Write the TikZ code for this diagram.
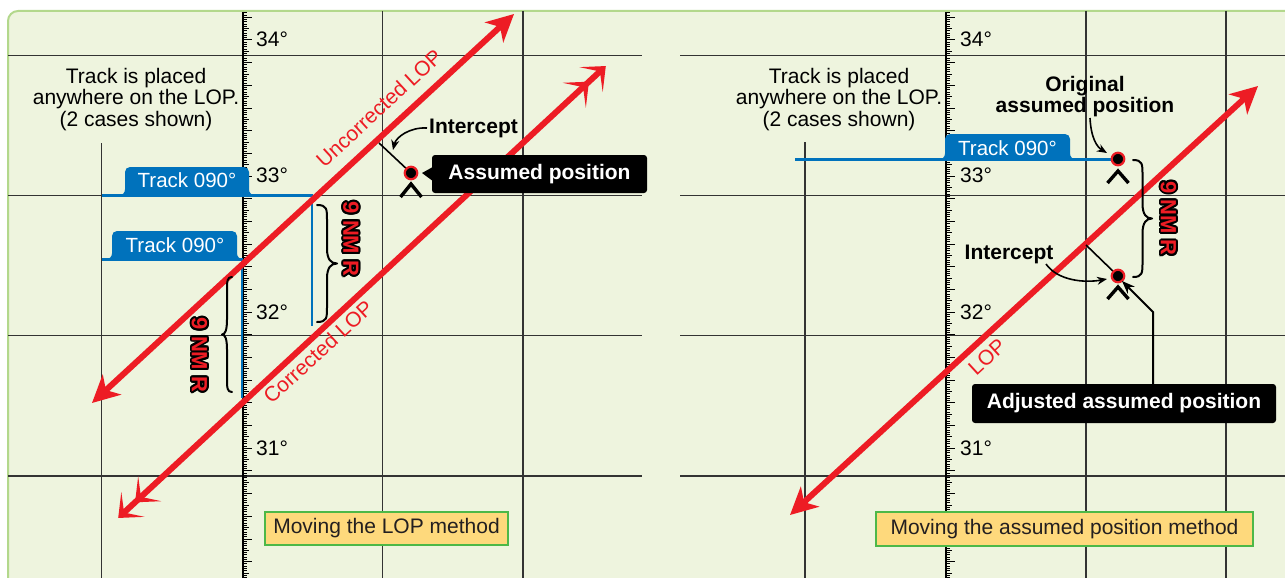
\documentclass[tikz,border=0pt]{standalone}
\usepackage{fontspec}
\setmainfont{Liberation Sans}
\usetikzlibrary{arrows.meta,calc}
\definecolor{panelbg}{HTML}{EEF4DE}
\definecolor{panelborder}{HTML}{B3D88C}
\definecolor{lopred}{HTML}{ED1C24}
\definecolor{trackblue}{HTML}{0072BC}
\definecolor{tagfill}{HTML}{FED97C}
\definecolor{taggreen}{HTML}{4DB848}
\definecolor{gridgrey}{HTML}{333333}
\definecolor{textdark}{HTML}{231F20}

\newcommand\olcopy[3]{\rlap{\hspace*{#1}\raisebox{#2}{\color{black}#3}}}
\newcommand\nmrOutline[1]{\leavevmode
  \olcopy{1.9pt}{0pt}{#1}\olcopy{-1.9pt}{0pt}{#1}%
  \olcopy{0pt}{1.9pt}{#1}\olcopy{0pt}{-1.9pt}{#1}%
  \olcopy{1.35pt}{1.35pt}{#1}\olcopy{-1.35pt}{1.35pt}{#1}%
  \olcopy{1.35pt}{-1.35pt}{#1}\olcopy{-1.35pt}{-1.35pt}{#1}%
  \olcopy{1.75pt}{0.75pt}{#1}\olcopy{-1.75pt}{0.75pt}{#1}%
  \olcopy{1.75pt}{-0.75pt}{#1}\olcopy{-1.75pt}{-0.75pt}{#1}%
  \olcopy{0.75pt}{1.75pt}{#1}\olcopy{-0.75pt}{1.75pt}{#1}%
  \olcopy{0.75pt}{-1.75pt}{#1}\olcopy{-0.75pt}{-1.75pt}{#1}%
  {\color{lopred}#1}}

% #1 left, #2 right, #3 top, #4 base line
\newcommand\tracktab[4]{%
 \fill[trackblue] ({#1-6},{#4+1.2}) -- ({#1-6},#4) .. controls ({#1-2.7},#4) and (#1,{#4-2.7}) .. (#1,{#4-6})
   -- (#1,{#3+5}) .. controls (#1,{#3+2.2}) and ({#1+2.2},#3) .. ({#1+5},#3)
   -- ({#2-5},#3) .. controls ({#2-2.2},#3) and (#2,{#3+2.2}) .. (#2,{#3+5})
   -- (#2,{#4-6}) .. controls (#2,{#4-2.7}) and ({#2+2.7},#4) .. ({#2+6},#4)
   -- ({#2+6},{#4+1.2}) -- cycle;}

% curly brace: #1 end x, #2 tip x, #3 top y, #4 bottom y
\newcommand\curlybrace[4]{%
 \draw[bracestroke] (#1,#3) .. controls ({0.5*#1+0.5*#2},#3) and ({0.5*#1+0.5*#2},{#3+4}) .. ({0.5*#1+0.5*#2},{#3+15})
   -- ({0.5*#1+0.5*#2},{0.5*#3+0.5*#4-15}) .. controls ({0.5*#1+0.5*#2},{0.5*#3+0.5*#4-4}) and ({0.3*#1+0.7*#2},{0.5*#3+0.5*#4}) .. (#2,{0.5*#3+0.5*#4})
   .. controls ({0.3*#1+0.7*#2},{0.5*#3+0.5*#4}) and ({0.5*#1+0.5*#2},{0.5*#3+0.5*#4+4}) .. ({0.5*#1+0.5*#2},{0.5*#3+0.5*#4+15})
   -- ({0.5*#1+0.5*#2},{#4-15}) .. controls ({0.5*#1+0.5*#2},{#4-4}) and ({0.5*#1+0.5*#2},#4) .. (#1,#4);}

\begin{document}
\begin{tikzpicture}[x=1pt,y=-1pt,
  gridline/.style={draw=gridgrey,line width=1.1pt},
  gridthick/.style={draw=gridgrey,line width=2pt},
  axisline/.style={draw=black,line width=2.4pt},
  tickmark/.style={draw=black,line width=1pt},
  trackline/.style={draw=trackblue,line width=2.4pt},
  lopbase/.style={draw=lopred,line width=6pt},
  lopsingle/.style={lopbase,{Stealth[length=27pt,width=27pt,inset=8pt]}-{Stealth[length=27pt,width=27pt,inset=8pt]}},
  lopdouble/.style={lopbase,{Stealth[length=20pt,width=34pt,inset=12pt,sep=3pt]Stealth[length=20pt,width=34pt,inset=12pt,sep=3pt]}-{Stealth[length=20pt,width=34pt,inset=12pt,sep=3pt]Stealth[length=20pt,width=34pt,inset=12pt,sep=3pt]}},
  lbl/.style={font=\fontsize{21}{21.7}\selectfont,text=black,inner sep=0pt},
  boldlbl/.style={font=\bfseries\fontsize{21}{21}\selectfont,text=black,inner sep=0pt},
  redlbl/.style={font=\fontsize{21}{24}\selectfont,text=lopred,inner sep=0pt},
  tabtext/.style={font=\fontsize{20.5}{24}\selectfont,text=white,inner sep=0pt},
  blackbox/.style={fill=black,text=white,font=\bfseries\fontsize{21}{24}\selectfont,rounded corners=3pt,inner sep=0pt},
  methodbox/.style={fill=tagfill,draw=taggreen,line width=1.5pt,font=\fontsize{21}{24}\selectfont,text=textdark,inner sep=0pt},
  nmr/.style={font=\bfseries\fontsize{22}{24}\selectfont,inner sep=0pt,rotate=-90},
  bracestroke/.style={draw=black,line width=2pt,line cap=round,line join=round},
  apdot/.style={circle,fill=black,draw=lopred,line width=2.2pt,minimum size=12.5pt,inner sep=0pt},
  chevron/.style={draw=black,line width=3.4pt},
  interline/.style={draw=black,line width=1.6pt},
  callarrow/.style={draw=black,line width=1.6pt,-{Stealth[length=10pt,width=8pt]}},
  bigarrow/.style={draw=black,line width=2pt,-{Stealth[length=13pt,width=10pt]}}
]
\path[use as bounding box] (0,0) rectangle (1285,578);
\fill[panelbg,rounded corners=10pt] (8,600) -- (8,11) -- (1300,11) -- (1300,600) -- cycle;
\draw[panelborder,line width=2pt,rounded corners=10pt] (8,600) -- (8,11) -- (1300,11);

% grid
\foreach \y in {55.3,195.4,335.4} {
  \draw[gridline] (8,\y) -- (642,\y);
  \draw[gridline] (680,\y) -- (1285,\y);
}
\draw[gridthick] (8,475.5) -- (642,475.5);
\draw[gridthick] (680,475.5) -- (1285,475.5);
\draw[gridline] (101.5,143) -- (101.5,578);
\draw[gridline] (382.5,11) -- (382.5,578);
\draw[gridthick] (523,11) -- (523,578);
\draw[gridline] (805,142) -- (805,578);
\draw[gridline] (1086,11) -- (1086,578);
\draw[gridthick] (1226,11) -- (1226,578);

% latitude scales
\foreach \ax in {243,946} {
  \draw[axisline] (\ax,12) -- (\ax,578);
  \foreach \i in {-12,...,237} {
    \pgfmathsetmacro\tl{ifthenelse(mod(\i,10)==0,7.5,ifthenelse(mod(\i,5)==0,5,3))}
    \draw[tickmark] ({\ax+1},{40+\i*2.2683}) -- ++(\tl,0);
  }
}
\node[lbl,anchor=base west] (d34L) at (256,46.5) {34°};
\node[lbl,anchor=base west] (d33L) at (256,182.8) {33°};
\node[lbl,anchor=base west] (d32L) at (256,319) {32°};
\node[lbl,anchor=base west] (d31L) at (256,455.3) {31°};
\node[lbl,anchor=base west] (d34R) at (960,46.5) {34°};
\node[lbl,anchor=base west] (d33R) at (960,182.8) {33°};
\node[lbl,anchor=base west] (d32R) at (960,319) {32°};
\node[lbl,anchor=base west] (d31R) at (960,455.3) {31°};

% notes
\node[lbl,align=center] (noteL) at (136,99.5) {Track is placed\\anywhere on the LOP.\\(2 cases shown)};
\node[lbl,align=center] (noteR) at (839,99.5) {Track is placed\\anywhere on the LOP.\\(2 cases shown)};

% ---------- left panel tracks ----------
\coordinate (tAstart) at (101.5,195.4);
\coordinate (tAcorner) at (312,195.4);
\coordinate (tAend) at (312,326);
\draw[trackline] (tAstart) -- (tAcorner) -- (tAend);
\tracktab{125}{249}{167}{195.4}
\node[tabtext,anchor=base] (trkA) at (187,187.5) {Track 090°};

\coordinate (tBstart) at (102,259.3);
\coordinate (tBcorner) at (242,259.3);
\coordinate (tBend) at (242,398);
\draw[trackline] (tBstart) -- (tBcorner) -- (tBend);
\tracktab{112}{237}{231}{259.3}
\node[tabtext,anchor=base] (trkB) at (175,252.3) {Track 090°};

% ---------- right panel track ----------
\coordinate (tCstart) at (795,159.5);
\coordinate (tCend) at (1112,159.5);
\draw[trackline] (tCstart) -- (tCend);
\tracktab{945}{1070}{134}{159.5}
\node[tabtext,anchor=base] (trkC) at (1007.5,155.7) {Track 090°};

% ---------- LOP lines ----------
\coordinate (uA) at (92,403);
\coordinate (uB) at (514,14);
\draw[lopsingle] (uA) -- (uB);
\coordinate (cA) at (116,520);
\coordinate (cB) at (608,64);
\draw[lopdouble] (cA) -- (cB);
\coordinate (rA) at (790,515);
\coordinate (rB) at (1258,86);
\draw[lopsingle] (rA) -- (rB);

\node[redlbl,rotate=42.6] (uLbl) at (379,108) {Uncorrected LOP};
\node[redlbl,rotate=42.6] (cLbl) at (318,352) {Corrected LOP};
\node[redlbl,rotate=42.6] (rLbl) at (987,357) {LOP};

% ---------- braces and distances ----------
\curlybrace{232}{222}{277}{392}
\curlybrace{317}{337}{205}{322}
\curlybrace{1133}{1152}{160}{277}
\node[nmr] (nmrL1) at (199.5,355) {\nmrOutline{9 NM R}};
\node[nmr] (nmrL2) at (351,239) {\nmrOutline{9 NM R}};
\node[nmr] (nmrR) at (1168.5,218.5) {\nmrOutline{9 NM R}};

% ---------- left assumed position ----------
\coordinate (iLstart) at (379,143);
\draw[interline] (iLstart) -- (411,173);
\node[apdot] (dotA) at (411,173) {};
\draw[chevron] ($(dotA)+(-10.5,24)$) -- ($(dotA)+(0,11)$) -- ($(dotA)+(10.5,24)$);
\node[boldlbl,anchor=base] (intL) at (473.5,133) {Intercept};
\coordinate (intLs) at (427,128);
\coordinate (intLt) at (393,150);
\draw[callarrow] (intLs) .. controls (410,127) and (396,137) .. (intLt);
\node[blackbox,minimum width=215pt,minimum height=38pt] (apBox) at (539.5,174) {Assumed position};
\coordinate (apTip) at (422,173);
\fill[black] ($(apBox.west)+(1,-7)$) -- (apTip) -- ($(apBox.west)+(1,7)$) -- cycle;

% ---------- right assumed positions ----------
\node[apdot] (dotO) at (1118,159) {};
\draw[chevron] ($(dotO)+(-10.5,24)$) -- ($(dotO)+(0,12)$) -- ($(dotO)+(10.5,24)$);
\node[boldlbl,align=center] (origLbl) at (1085,97) {Original\\assumed position};
\coordinate (origS) at (1090,118);
\coordinate (origT) at (1107,153);
\draw[callarrow] (origS) .. controls (1091,138) and (1097,147) .. (origT);

\coordinate (iRstart) at (1086,245);
\draw[interline] (iRstart) -- (1118,276);
\node[apdot] (dotN) at (1118,276) {};
\draw[chevron] ($(dotN)+(-10.5,23)$) -- ($(dotN)+(0,11)$) -- ($(dotN)+(10.5,23)$);
\node[boldlbl,anchor=base] (intR) at (1009,259) {Intercept};
\coordinate (intRs) at (1046,264);
\coordinate (intRt) at (1107,279);
\draw[callarrow] (intRs) .. controls (1058,281) and (1085,283) .. (intRt);

\node[blackbox,minimum width=304pt,minimum height=39pt] (adjBox) at (1124,403.5) {Adjusted assumed position};
\coordinate (adjBend) at (1153,312);
\coordinate (adjTip) at (1122,281);
\draw[bigarrow] ($(adjBox.north)+(29,0)$) -- (adjBend) -- (adjTip);

% ---------- method labels ----------
\node[methodbox,minimum width=243pt,minimum height=33pt] (mL) at (386.5,528.5) {Moving the LOP method};
\node[methodbox,minimum width=377pt,minimum height=34pt] (mR) at (1064.5,529) {Moving the assumed position method};
\end{tikzpicture}
\end{document}
